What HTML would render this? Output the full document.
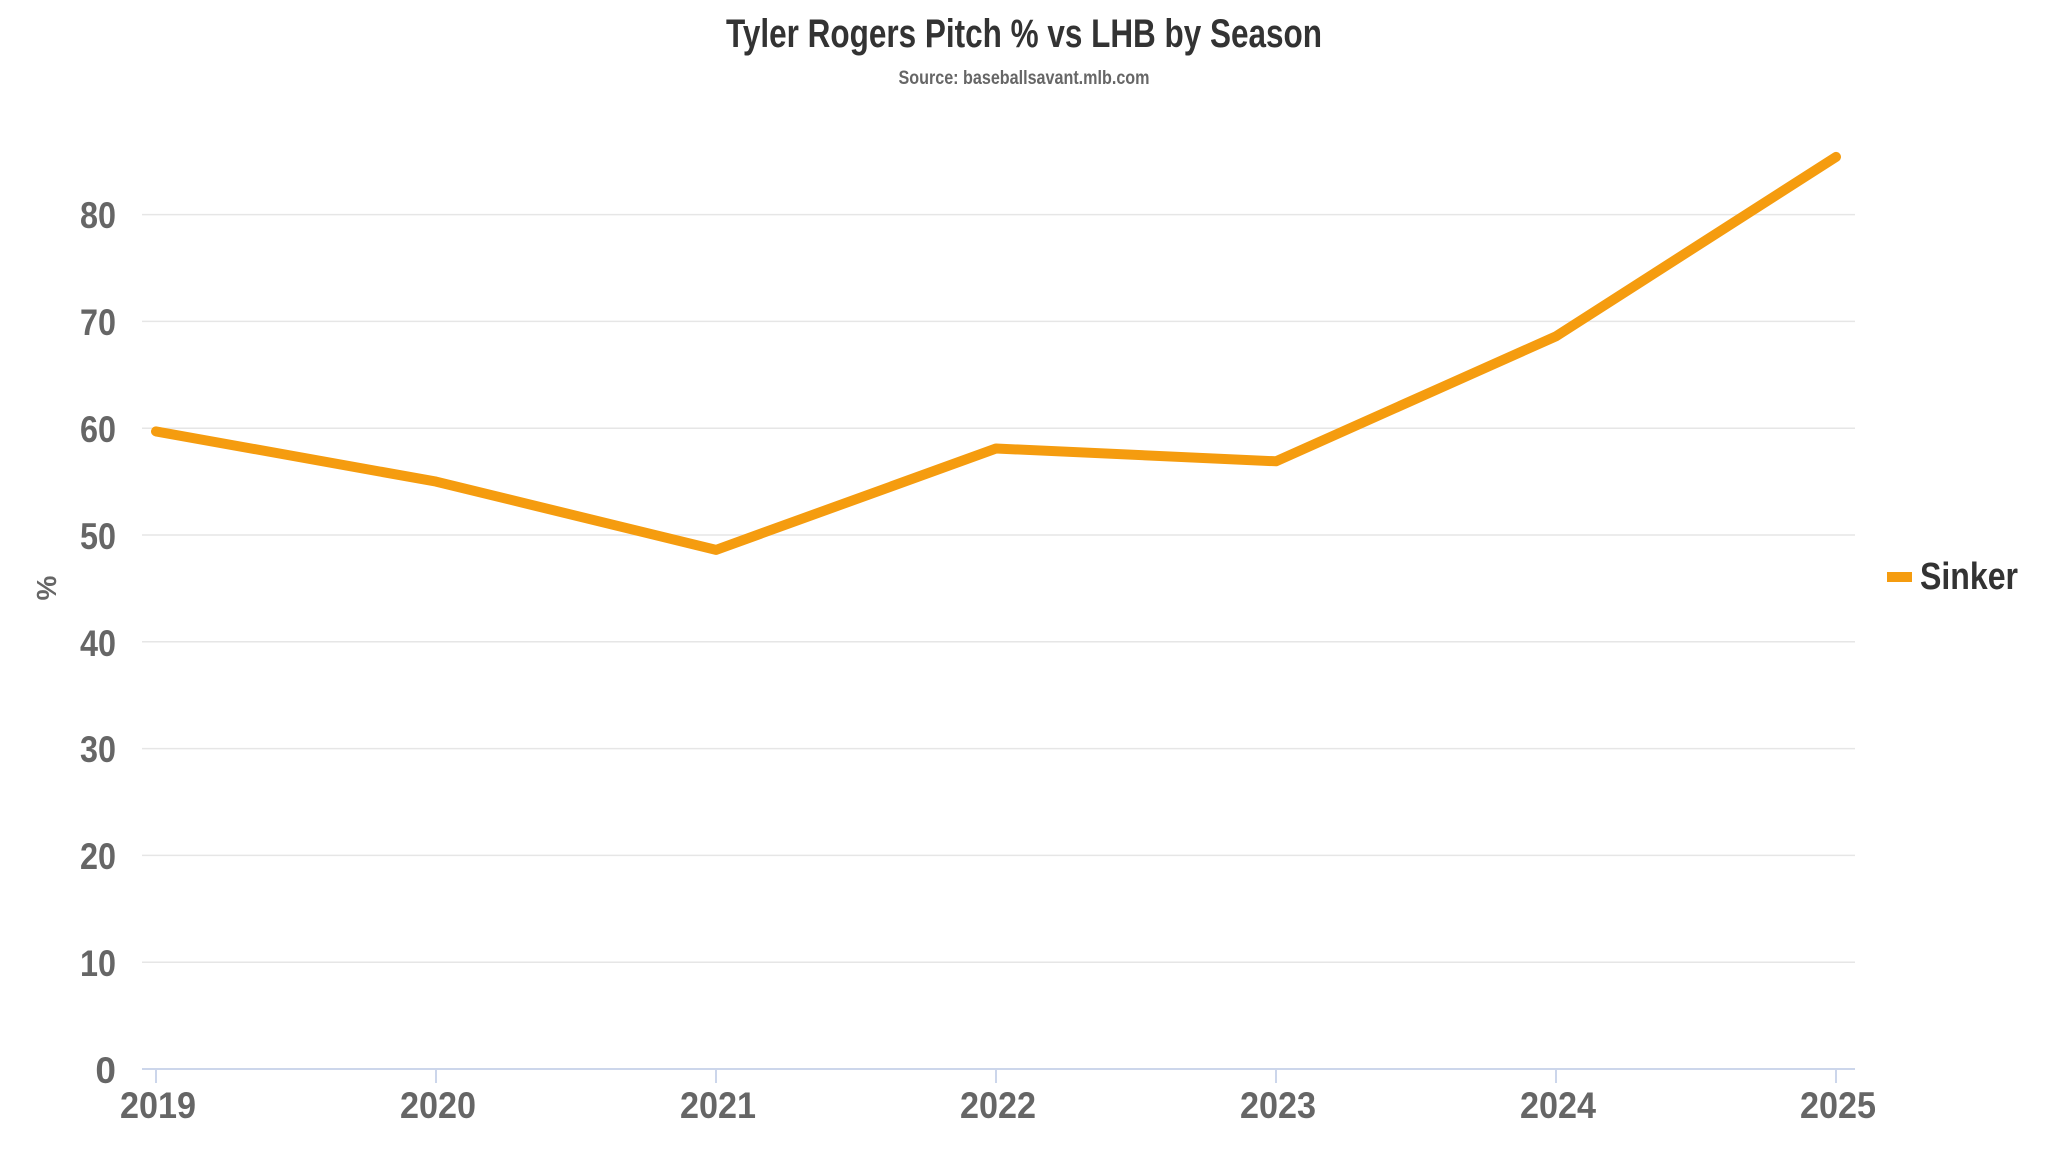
<!DOCTYPE html>
<html><head><meta charset="utf-8"><style>
html,body{margin:0;padding:0;background:#fff;}
svg{display:block;}
text{font-family:"Liberation Sans Narrow","Liberation Sans",sans-serif;font-weight:bold;}
</style></head><body>
<svg width="2048" height="1152" viewBox="0 0 2048 1152" xmlns="http://www.w3.org/2000/svg">
<rect width="2048" height="1152" fill="#fff"/>
<text x="1024" y="47" text-anchor="middle" font-size="40" fill="#333" textLength="596" lengthAdjust="spacingAndGlyphs">Tyler Rogers Pitch % vs LHB by Season</text>
<text x="1024" y="84" text-anchor="middle" font-size="19" fill="#666" textLength="251" lengthAdjust="spacingAndGlyphs">Source: baseballsavant.mlb.com</text>
<g stroke="#e6e6e6" stroke-width="1.5">
<line x1="142" y1="962.2" x2="1855" y2="962.2"/>
<line x1="142" y1="855.4" x2="1855" y2="855.4"/>
<line x1="142" y1="748.6" x2="1855" y2="748.6"/>
<line x1="142" y1="641.8" x2="1855" y2="641.8"/>
<line x1="142" y1="535" x2="1855" y2="535"/>
<line x1="142" y1="428.2" x2="1855" y2="428.2"/>
<line x1="142" y1="321.4" x2="1855" y2="321.4"/>
<line x1="142" y1="214.6" x2="1855" y2="214.6"/>
</g>
<line x1="142" y1="1069" x2="1855" y2="1069" stroke="#ccd6eb" stroke-width="2"/>
<g stroke="#ccd6eb" stroke-width="2">
<line x1="156" y1="1069" x2="156" y2="1083"/>
<line x1="436" y1="1069" x2="436" y2="1083"/>
<line x1="716" y1="1069" x2="716" y2="1083"/>
<line x1="996" y1="1069" x2="996" y2="1083"/>
<line x1="1276" y1="1069" x2="1276" y2="1083"/>
<line x1="1556" y1="1069" x2="1556" y2="1083"/>
<line x1="1836" y1="1069" x2="1836" y2="1083"/>
</g>
<g font-size="37" fill="#666" text-anchor="end">
<text x="116" y="1083">0</text>
<text x="116" y="976" textLength="36" lengthAdjust="spacingAndGlyphs">10</text>
<text x="116" y="869" textLength="36" lengthAdjust="spacingAndGlyphs">20</text>
<text x="116" y="762" textLength="36" lengthAdjust="spacingAndGlyphs">30</text>
<text x="116" y="656" textLength="36" lengthAdjust="spacingAndGlyphs">40</text>
<text x="116" y="549" textLength="36" lengthAdjust="spacingAndGlyphs">50</text>
<text x="116" y="442" textLength="36" lengthAdjust="spacingAndGlyphs">60</text>
<text x="116" y="335" textLength="36" lengthAdjust="spacingAndGlyphs">70</text>
<text x="116" y="228" textLength="36" lengthAdjust="spacingAndGlyphs">80</text>
</g>
<g font-size="37" fill="#666" text-anchor="middle">
<text x="158" y="1118" textLength="76" lengthAdjust="spacingAndGlyphs">2019</text>
<text x="438" y="1118" textLength="76" lengthAdjust="spacingAndGlyphs">2020</text>
<text x="718" y="1118" textLength="76" lengthAdjust="spacingAndGlyphs">2021</text>
<text x="998" y="1118" textLength="76" lengthAdjust="spacingAndGlyphs">2022</text>
<text x="1278" y="1118" textLength="76" lengthAdjust="spacingAndGlyphs">2023</text>
<text x="1558" y="1118" textLength="76" lengthAdjust="spacingAndGlyphs">2024</text>
<text x="1838" y="1118" textLength="76" lengthAdjust="spacingAndGlyphs">2025</text>
</g>
<text transform="translate(56,588) rotate(-90)" text-anchor="middle" font-size="28" fill="#666">%</text>
<polyline fill="none" stroke="#f59c0f" stroke-width="10" stroke-linejoin="round" stroke-linecap="round"
points="156,431.4 436,481.6 716,549.9 996,448.5 1276,461.3 1556,336.3 1836,156.9"/>
<rect x="1887" y="572" width="25" height="10" fill="#f59c0f"/>
<text x="1920" y="589" font-size="38" fill="#333" textLength="98" lengthAdjust="spacingAndGlyphs">Sinker</text>
</svg>
</body></html>
